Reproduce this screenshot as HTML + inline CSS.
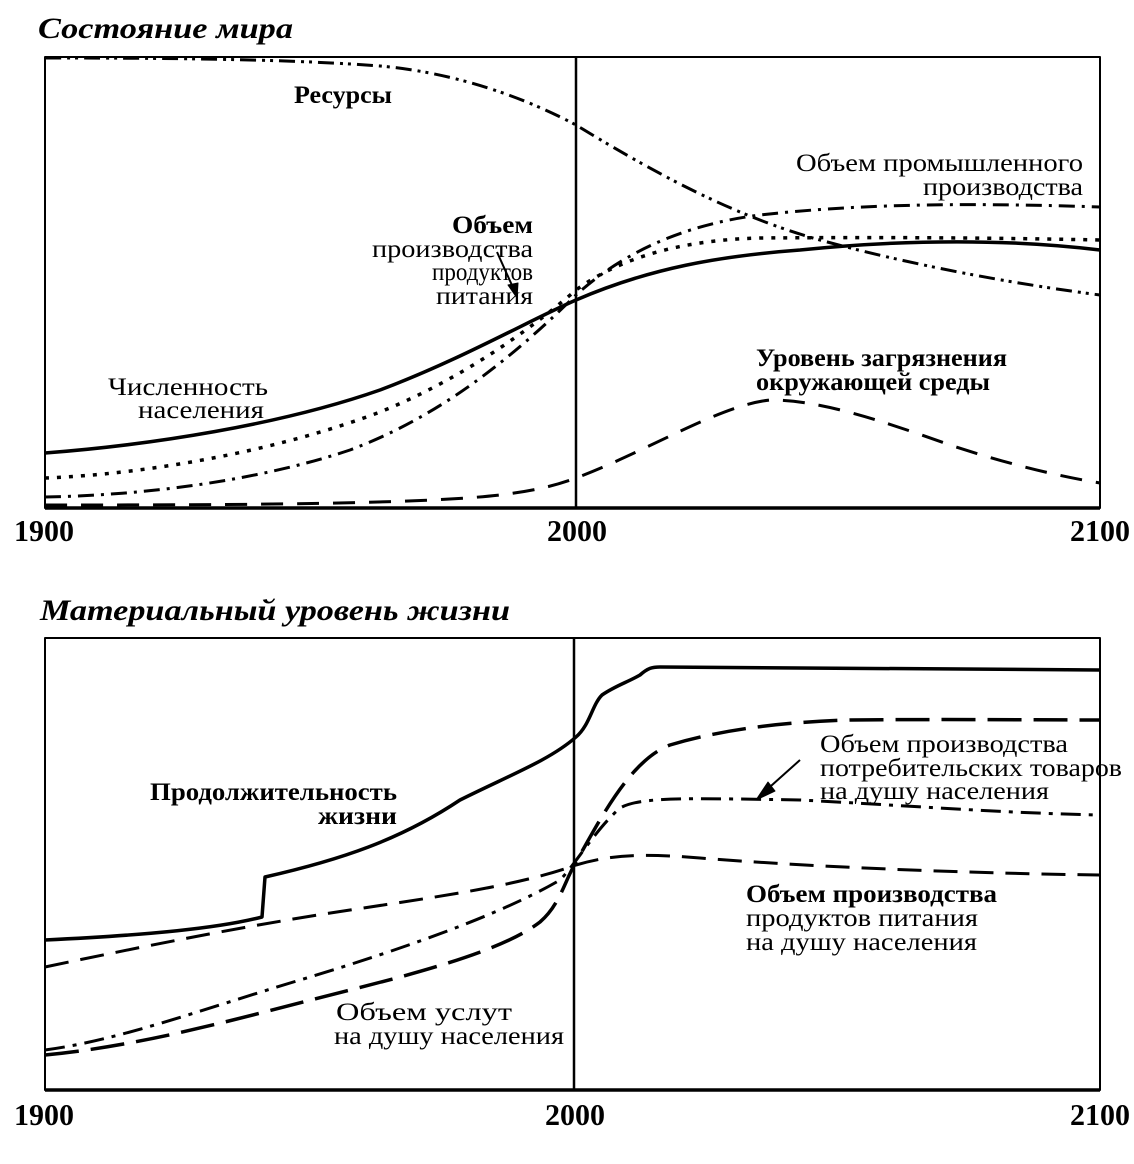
<!DOCTYPE html>
<html><head><meta charset="utf-8"><style>
html,body{margin:0;padding:0;background:#fff;}
svg text{font-family:"Liberation Serif",serif;fill:#000;}
.t{font-size:30px;font-weight:bold;font-style:italic;}
.l{font-size:25px;}
.n{font-size:31px;font-weight:bold;}
</style></head><body>
<svg width="1134" height="1159" viewBox="0 0 1134 1159" xmlns="http://www.w3.org/2000/svg">
<g fill="none" stroke="#000" stroke-linejoin="round" stroke-linecap="butt">
<rect x="45" y="57" width="1055" height="451" stroke-width="2"/>
<line x1="45" y1="508" x2="1100" y2="508" stroke-width="3.5"/>
<line x1="576" y1="57" x2="576" y2="508" stroke-width="2.5"/>
<path d="M45,58 C200,58 300,60 380,66 C450,72 520,95 576,125 C650,170 730,215 820,240 C900,262 1000,282 1100,295" stroke-width="3" stroke-dasharray="16,6,3,5,3,6"/>
<path d="M45,497 C150,495 260,480 350,450 C430,420 500,370 576,295 C620,255 680,225 760,215 C850,205 950,202 1100,207" stroke-width="3" stroke-dasharray="16,7,3,7"/>
<path d="M45,478 C150,474 280,450 380,412 C460,380 530,330 576,290 C620,258 680,240 760,238 C900,237 1000,238 1100,240" stroke-width="3.5" stroke-dasharray="4,8"/>
<path d="M45,453 C150,445 280,425 380,390 C460,360 530,320 576,300 C650,268 720,256 800,250 C900,240 1000,238 1100,250" stroke-width="3.5"/>
<path d="M45,505 C250,505 420,504 500,495 C540,490 560,484 576,478 C650,450 720,405 770,400 C820,400 880,420 950,445 C1020,468 1070,478 1100,483" stroke-width="3" stroke-dasharray="22,14"/>
<line x1="497" y1="252" x2="515" y2="292" stroke-width="2"/>
<path d="M508,285 L517,298 L518,283 Z" fill="#000"/>

<rect x="45" y="638" width="1055" height="452" stroke-width="2"/>
<line x1="45" y1="1090" x2="1100" y2="1090" stroke-width="3.5"/>
<line x1="574" y1="638" x2="574" y2="1090" stroke-width="2.5"/>
<path d="M45,940 C150,935 220,928 262,917 L265,877 C340,860 400,840 460,800 C510,775 550,760 576,737 C590,725 592,705 602,695 C615,686 628,682 640,675 C648,668 652,667 660,667 L1100,670" stroke-width="3.5"/>
<path d="M45,967 C150,945 250,925 350,910 C450,895 520,885 576,865 C610,855 640,853 700,858 C800,866 950,873 1100,875" stroke-width="3" stroke-dasharray="24,12"/>
<path d="M45,1050 C120,1040 200,1010 300,980 C400,950 500,915 560,880 C575,865 595,830 620,808 C640,797 680,798 800,800 C900,805 1000,813 1100,815" stroke-width="3" stroke-dasharray="20,8,4,8"/>
<path d="M45,1055 C150,1045 250,1015 350,990 C450,965 510,945 540,922 C560,905 565,880 576,862 C600,820 630,760 670,745 C720,730 780,722 850,720 C950,719 1050,720 1100,720" stroke-width="3.5" stroke-dasharray="34,12"/>
<line x1="800" y1="760" x2="762" y2="794" stroke-width="2"/>
<path d="M768,782 L756,800 L775,791 Z" fill="#000"/>
</g>

<text class="t" x="38" y="38" textLength="255" lengthAdjust="spacingAndGlyphs">Состояние мира</text>
<text class="t" x="40" y="620" textLength="470" lengthAdjust="spacingAndGlyphs">Материальный уровень жизни</text>

<g class="n">
<text x="14" y="541" textLength="60" lengthAdjust="spacingAndGlyphs">1900</text>
<text x="547" y="541" textLength="60" lengthAdjust="spacingAndGlyphs">2000</text>
<text x="1070" y="541" textLength="60" lengthAdjust="spacingAndGlyphs">2100</text>
<text x="14" y="1125" textLength="60" lengthAdjust="spacingAndGlyphs">1900</text>
<text x="545" y="1125" textLength="60" lengthAdjust="spacingAndGlyphs">2000</text>
<text x="1070" y="1125" textLength="60" lengthAdjust="spacingAndGlyphs">2100</text>
</g>

<g class="l" lengthAdjust="spacingAndGlyphs">
<text x="294" y="103" font-weight="bold" textLength="98" lengthAdjust="spacingAndGlyphs">Ресурсы</text>
<text x="796" y="171" textLength="287" lengthAdjust="spacingAndGlyphs">Объем промышленного</text>
<text x="923" y="195" textLength="160" lengthAdjust="spacingAndGlyphs">производства</text>
<text x="452" y="233" font-weight="bold" textLength="81" lengthAdjust="spacingAndGlyphs">Объем</text>
<text x="372" y="257" textLength="161" lengthAdjust="spacingAndGlyphs">производства</text>
<text x="432" y="280" textLength="101" lengthAdjust="spacingAndGlyphs">продуктов</text>
<text x="436" y="304" textLength="97" lengthAdjust="spacingAndGlyphs">питания</text>
<text x="756" y="366" font-weight="bold" textLength="251" lengthAdjust="spacingAndGlyphs">Уровень загрязнения</text>
<text x="756" y="390" font-weight="bold" textLength="234" lengthAdjust="spacingAndGlyphs">окружающей среды</text>
<text x="108" y="395" textLength="160" lengthAdjust="spacingAndGlyphs">Численность</text>
<text x="138" y="418" textLength="126" lengthAdjust="spacingAndGlyphs">населения</text>

<text x="150" y="800" font-weight="bold" textLength="247" lengthAdjust="spacingAndGlyphs">Продолжительность</text>
<text x="318" y="824" font-weight="bold" textLength="79" lengthAdjust="spacingAndGlyphs">жизни</text>
<text x="820" y="752" textLength="248" lengthAdjust="spacingAndGlyphs">Объем производства</text>
<text x="820" y="776" textLength="302" lengthAdjust="spacingAndGlyphs">потребительских товаров</text>
<text x="820" y="799" textLength="229" lengthAdjust="spacingAndGlyphs">на душу населения</text>
<text x="746" y="902" font-weight="bold" textLength="251" lengthAdjust="spacingAndGlyphs">Объем производства</text>
<text x="746" y="926" textLength="232" lengthAdjust="spacingAndGlyphs">продуктов питания</text>
<text x="746" y="950" textLength="231" lengthAdjust="spacingAndGlyphs">на душу населения</text>
<text x="336" y="1020" textLength="176" lengthAdjust="spacingAndGlyphs">Объем услут</text>
<text x="334" y="1044" textLength="230" lengthAdjust="spacingAndGlyphs">на душу населения</text>
</g>
</svg>
</body></html>
